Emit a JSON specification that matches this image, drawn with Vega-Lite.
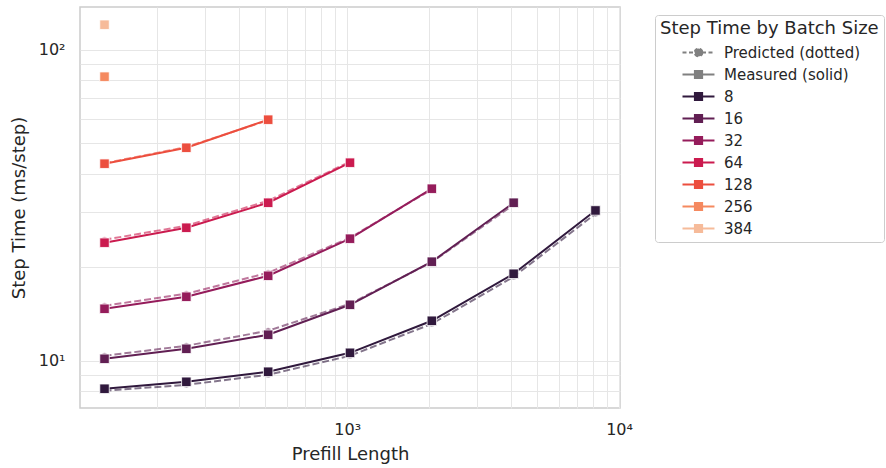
{
  "$schema": "https://vega.github.io/schema/vega-lite/v6.json",
  "autosize": {"type": "none"},
  "width": 540,
  "height": 401,
  "padding": {"left": 80, "top": 7, "right": 266, "bottom": 60},
  "background": "white",
  "config": {
    "font": "DejaVu Sans",
    "view": {"stroke": "#cccccc", "strokeWidth": 1.5},
    "axis": {
      "domain": false,
      "ticks": false,
      "labelColor": "#262626",
      "titleColor": "#262626",
      "titleFontWeight": "normal",
      "labelFontSize": 16,
      "titleFontSize": 18,
      "gridColor": "#e6e6e6",
      "gridWidth": 1,
      "labelFlush": false,
      "labelOverlap": false
    }
  },
  "data": {
    "values": [
      {"kind": "Measured", "batch": "8", "prefill": 128, "time": 8.13},
      {"kind": "Measured", "batch": "8", "prefill": 256, "time": 8.56},
      {"kind": "Measured", "batch": "8", "prefill": 512, "time": 9.22},
      {"kind": "Measured", "batch": "8", "prefill": 1024, "time": 10.61},
      {"kind": "Measured", "batch": "8", "prefill": 2048, "time": 13.45},
      {"kind": "Measured", "batch": "8", "prefill": 4096, "time": 19.05},
      {"kind": "Measured", "batch": "8", "prefill": 8192, "time": 30.45},
      {"kind": "Predicted", "batch": "8", "prefill": 128, "time": 8.01},
      {"kind": "Predicted", "batch": "8", "prefill": 256, "time": 8.37},
      {"kind": "Predicted", "batch": "8", "prefill": 512, "time": 9.02},
      {"kind": "Predicted", "batch": "8", "prefill": 1024, "time": 10.38},
      {"kind": "Predicted", "batch": "8", "prefill": 2048, "time": 13.15},
      {"kind": "Predicted", "batch": "8", "prefill": 4096, "time": 18.64},
      {"kind": "Predicted", "batch": "8", "prefill": 8192, "time": 29.7},
      {"kind": "Measured", "batch": "16", "prefill": 128, "time": 10.15},
      {"kind": "Measured", "batch": "16", "prefill": 256, "time": 10.93},
      {"kind": "Measured", "batch": "16", "prefill": 512, "time": 12.13},
      {"kind": "Measured", "batch": "16", "prefill": 1024, "time": 15.14},
      {"kind": "Measured", "batch": "16", "prefill": 2048, "time": 20.83},
      {"kind": "Measured", "batch": "16", "prefill": 4096, "time": 32.24},
      {"kind": "Predicted", "batch": "16", "prefill": 128, "time": 10.38},
      {"kind": "Predicted", "batch": "16", "prefill": 256, "time": 11.18},
      {"kind": "Predicted", "batch": "16", "prefill": 512, "time": 12.49},
      {"kind": "Predicted", "batch": "16", "prefill": 1024, "time": 15.26},
      {"kind": "Predicted", "batch": "16", "prefill": 2048, "time": 20.75},
      {"kind": "Predicted", "batch": "16", "prefill": 4096, "time": 31.76},
      {"kind": "Measured", "batch": "32", "prefill": 128, "time": 14.7},
      {"kind": "Measured", "batch": "32", "prefill": 256, "time": 16.07},
      {"kind": "Measured", "batch": "32", "prefill": 512, "time": 18.77},
      {"kind": "Measured", "batch": "32", "prefill": 1024, "time": 24.7},
      {"kind": "Measured", "batch": "32", "prefill": 2048, "time": 35.77},
      {"kind": "Predicted", "batch": "32", "prefill": 128, "time": 15.03},
      {"kind": "Predicted", "batch": "32", "prefill": 256, "time": 16.43},
      {"kind": "Predicted", "batch": "32", "prefill": 512, "time": 19.19},
      {"kind": "Predicted", "batch": "32", "prefill": 1024, "time": 24.88},
      {"kind": "Predicted", "batch": "32", "prefill": 2048, "time": 35.6},
      {"kind": "Measured", "batch": "64", "prefill": 128, "time": 23.98},
      {"kind": "Measured", "batch": "64", "prefill": 256, "time": 26.79},
      {"kind": "Measured", "batch": "64", "prefill": 512, "time": 32.24},
      {"kind": "Measured", "batch": "64", "prefill": 1024, "time": 43.37},
      {"kind": "Predicted", "batch": "64", "prefill": 128, "time": 24.51},
      {"kind": "Predicted", "batch": "64", "prefill": 256, "time": 27.19},
      {"kind": "Predicted", "batch": "64", "prefill": 512, "time": 32.72},
      {"kind": "Predicted", "batch": "64", "prefill": 1024, "time": 43.69},
      {"kind": "Measured", "batch": "128", "prefill": 128, "time": 43.05},
      {"kind": "Measured", "batch": "128", "prefill": 256, "time": 48.45},
      {"kind": "Measured", "batch": "128", "prefill": 512, "time": 59.63},
      {"kind": "Predicted", "batch": "128", "prefill": 128, "time": 43.2},
      {"kind": "Predicted", "batch": "128", "prefill": 256, "time": 48.7},
      {"kind": "Predicted", "batch": "128", "prefill": 512, "time": 59.4},
      {"kind": "Measured", "batch": "256", "prefill": 128, "time": 82.0},
      {"kind": "Predicted", "batch": "256", "prefill": 128, "time": 80.8},
      {"kind": "Measured", "batch": "384", "prefill": 128, "time": 120.5},
      {"kind": "Predicted", "batch": "384", "prefill": 128, "time": 118.7}
    ]
  },
  "encoding": {
    "x": {
      "field": "prefill",
      "type": "quantitative",
      "scale": {"type": "log", "domain": [104, 10083], "nice": false},
      "axis": {
        "title": "Prefill Length",
        "values": [200, 300, 400, 500, 600, 700, 800, 900, 1000, 2000, 3000, 4000, 5000, 6000, 7000, 8000, 9000, 10000],
        "labelExpr": "datum.value == 1000 ? '10³' : datum.value == 10000 ? '10⁴' : ''",
        "labelPadding": 13,
        "titlePadding": 8
      }
    },
    "y": {
      "field": "time",
      "type": "quantitative",
      "scale": {"type": "log", "domain": [7.05, 137.4], "nice": false},
      "axis": {
        "title": "Step Time (ms/step)",
        "values": [8, 9, 10, 20, 30, 40, 50, 60, 70, 80, 90, 100],
        "labelExpr": "datum.value == 10 ? '10¹' : datum.value == 100 ? '10²' : ''",
        "labelPadding": 15,
        "titlePadding": 10,
        "gridWidth": 1.2
      }
    },
    "color": {
      "field": "batch",
      "type": "nominal",
      "scale": {
        "domain": ["Predicted (dotted)", "Measured (solid)", "8", "16", "32", "64", "128", "256", "384"],
        "range": ["#808080", "#808080", "#30193d", "#611f53", "#951c5b", "#cb1b4f", "#ec4e3e", "#f5895f", "#f6bb9a"]
      },
      "legend": {
        "title": "Step Time by Batch Size",
        "orient": "none",
        "legendX": 575,
        "legendY": 8,
        "padding": 5,
        "strokeColor": "#cccccc",
        "fillColor": "white",
        "cornerRadius": 3,
        "titleFontSize": 18,
        "titleFontWeight": "normal",
        "titleColor": "#262626",
        "titleLimit": 400,
        "titlePadding": 7,
        "labelFontSize": 15,
        "labelColor": "#262626",
        "labelLimit": 300,
        "labelOffset": 49,
        "symbolSize": 144,
        "symbolStrokeWidth": 2,
        "rowPadding": 5,
        "encode": {
          "symbols": {
            "update": {
              "shape": {"signal": "datum.value === 'Predicted (dotted)' ? 'M2.5,0H7.83M5.82,0L5.733,0.325L5.495,0.563L5.17,0.65L4.845,0.563L4.607,0.325L4.52,0L4.607,-0.325L4.845,-0.563L5.17,-0.65L5.495,-0.563L5.733,-0.325Z' : 'M2.5,0H7.83M4.57,-0.6H5.77V0.6H4.57Z'"},
              "strokeDash": {"signal": "datum.value === 'Predicted (dotted)' ? [4, 2.5] : [1, 0]"},
              "fill": {"scale": "color", "field": "value"},
              "stroke": {"scale": "color", "field": "value"},
              "strokeWidth": {"value": 2},
              "opacity": {"value": 1}
            }
          }
        }
      }
    }
  },
  "layer": [
    {
      "transform": [{"filter": "datum.kind == 'Predicted'"}],
      "mark": {"type": "line", "strokeDash": [7, 3], "strokeWidth": 2, "opacity": 0.6}
    },
    {
      "transform": [{"filter": "datum.kind == 'Predicted'"}],
      "mark": {"type": "point", "shape": "circle", "filled": true, "size": 35, "opacity": 0.6, "stroke": "white", "strokeWidth": 0.5}
    },
    {
      "transform": [{"filter": "datum.kind == 'Measured'"}],
      "mark": {"type": "line", "strokeWidth": 2}
    },
    {
      "transform": [{"filter": "datum.kind == 'Measured'"}],
      "mark": {"type": "point", "shape": "square", "filled": true, "size": 90, "opacity": 1, "stroke": "white", "strokeWidth": 0.8}
    }
  ]
}
